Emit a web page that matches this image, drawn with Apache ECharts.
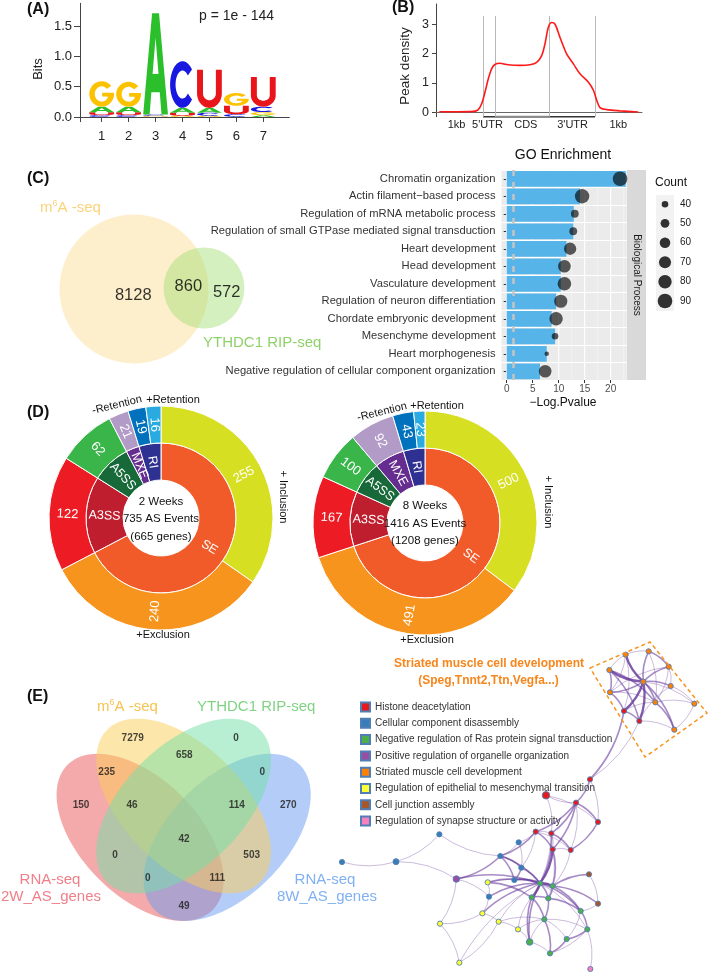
<!DOCTYPE html>
<html><head><meta charset="utf-8">
<script src="https://cdn.jsdelivr.net/npm/echarts@6/dist/echarts.min.js"></script>
<style>html,body{margin:0;padding:0;background:#fff;}#c{width:709px;height:972px;}</style>
</head><body><div id="c"></div>
<script>
// ================= DATA =================
// (A) sequence logo: information (bits) of each base at motif positions 1..7
const logoPositions = [1, 2, 3, 4, 5, 6, 7];
const bitsA = [0.09, 0.09, 1.67, 0.08, 0.08, 0.005, 0.03];
const bitsC = [0.03, 0.03, 0.02, 0.77, 0.05, 0.04, 0.09];
const bitsG = [0.42, 0.41, 0.015, 0.02, 0.02, 0.21, 0.05];
const bitsU = [0.05, 0.05, 0.005, 0.05, 0.63, 0.14, 0.49];
const logoYTicks = [0, 0.5, 1, 1.5];
// (B) metagene peak density
const metaX = [1.6, 10, 18.1, 20.4, 22.2, 23.8, 25.4, 27.0, 28.6, 31.1, 34.3, 40.8, 45.6, 48.9, 51.3, 52.9, 54.5, 56.2, 57.8, 60.2, 63.4, 66.7, 69.9, 73.9, 76.4, 78.0, 79.6, 82.9, 89.3, 98.2];
const metaY = [0.02, 0.02, 0.03, 0.08, 0.30, 0.69, 1.14, 1.48, 1.63, 1.67, 1.63, 1.60, 1.62, 1.70, 1.93, 2.33, 2.89, 3.06, 3.00, 2.55, 1.99, 1.65, 1.31, 1.03, 0.75, 0.41, 0.16, 0.09, 0.05, 0.01];
const regionBounds = [22.8, 28.6, 54.9, 77.2];
const regionLabels = ['1kb', "5'UTR", 'CDS', "3'UTR", '1kb'];
const regionLabelPos = [10, 25, 43.6, 66.3, 88.5];
const densityTicks = [0, 1, 2, 3];
// (C) two-set Venn
const venn2Counts = [8128, 860, 572];
// (C) GO enrichment
const goTerms = ['Chromatin organization', 'Actin filament\u2212based process', 'Regulation of mRNA metabolic process',
  'Regulation of small GTPase mediated signal transduction', 'Heart development', 'Head development',
  'Vasculature development', 'Regulation of neuron differentiation', 'Chordate embryonic development',
  'Mesenchyme development', 'Heart morphogenesis', 'Negative regulation of cellular component organization'];
const goLogP = [22.9, 14.1, 12.9, 12.8, 11.5, 10.4, 10.4, 9.5, 8.65, 9.3, 7.7, 6.4];
const goDotX = [21.8, 14.5, 13.1, 12.8, 12.2, 11.1, 11.1, 10.4, 9.5, 9.3, 7.7, 7.4];
const goCount = [90, 88, 45, 45, 72, 74, 82, 78, 80, 40, 33, 74];
const goTicks = [0, 5, 10, 15, 20];
const countLegend = [40, 50, 60, 70, 80, 90];
const pCutoff = 1.3;
// (D) AS events
const asTypes = ['SE', 'A3SS', 'A5SS', 'MXE', 'RI'];
const outerParent = [0, 0, 1, 2, 3, 4, 4];
const week2Outer = [255, 240, 122, 62, 21, 19, 16];
const week8Outer = [500, 491, 167, 100, 92, 43, 23];
const week2Center = ['2 Weeks', '735 AS Events', '(665 genes)'];
const week8Center = ['8 Weeks', '1416 AS Events', '(1208 genes)'];
// (E) four-set Venn (regions: A, B, AB, AC, BD, C, ABC, ABD, D, ABCD, BC, AD, BCD, ACD, CD)
const venn4Counts = [7279, 0, 658, 235, 0, 150, 46, 114, 270, 42, 0, 503, 0, 111, 49];
// (E) enrichment network
const netCategories = ['Histone deacetylation', 'Cellular component disassembly', 'Negative regulation of Ras protein signal transduction',
  'Positive regulation of organelle organization', 'Striated muscle cell development', 'Regulation of epithelial to mesenchymal transition',
  'Cell junction assembly', 'Regulation of synapse structure or activity'];
const netX = [797, 866, 926, 748, 850, 932, 750, 886, 1003, 792, 838, 943, 690, 558, 648, 714, 527, 574, 578, 632, 476, 421, 484, 463, 289, 238, 108, -54, 383, 387, 367, 240, 416, 298, 474, 509, 540, 578, 515, 565, 553, 687, 714, 662, 682, 620, 570, 691];
const netY = [14, 4, 50, 60, 95, 108, 127, 157, 161, 183, 213, 239, 388, 436, 458, 516, 545, 550, 598, 600, 577, 618, 653, 690, 687, 553, 635, 636, 697, 740, 790, 821, 815, 938, 838, 876, 700, 708, 742, 745, 808, 673, 761, 783, 838, 867, 910, 957];
const netCat = [4, 4, 4, 4, 4, 4, 4, 4, 4, 0, 0, 4, 0, 0, 0, 0, 0, 0, 0, 0, 1, 1, 1, 1, 3, 1, 1, 1, 5, 1, 5, 5, 5, 5, 5, 2, 2, 2, 2, 2, 2, 6, 6, 2, 2, 2, 2, 7];
const netEdges = [[4,0,3],[4,1,2],[4,2,2],[4,3,3],[4,5,2],[4,6,2],[4,7,2],[4,9,3],[4,10,3],[4,11,2],[4,8,1],
  [3,6,2],[3,0,1],[0,1,1],[1,2,2],[2,5,1],[5,8,1],[7,8,1],[7,11,2],[8,11,1],[9,10,2],[6,9,2],[10,11,1],[0,9,1],[3,7,2],[6,2,1],[1,7,1],[9,7,1],[3,10,2],[0,6,1],[2,7,1],[10,5,1],[6,7,1],
  [9,12,2],[10,12,1],[12,14,2],[12,15,1],[14,13,1],[14,15,2],[13,15,1],[14,16,2],[14,17,2],[14,19,1],[15,19,2],[16,17,1],[16,18,2],[17,18,1],[17,19,2],[18,19,1],[16,19,1],[14,18,2],[13,17,1],
  [18,36,3],[17,36,2],[16,21,2],[16,20,1],[18,37,2],[19,37,1],[16,22,1],[17,38,1],[18,39,1],
  [20,21,1],[20,22,1],[21,22,2],[21,23,2],[22,23,2],[21,24,2],[21,25,1],[25,26,1],[26,27,1],[26,24,1],[24,31,1],[24,29,1],[21,36,2],[22,36,2],[23,36,2],[23,37,1],[28,36,2],[28,38,2],[28,37,1],[29,36,2],[29,30,1],[30,31,1],[30,32,1],[31,33,1],[32,33,1],[32,34,1],[30,36,2],[32,36,1],[34,35,1],[34,38,1],[35,38,2],[35,36,2],[35,40,1],[36,37,3],[36,38,3],[36,39,2],[37,39,2],[38,39,2],[37,41,2],[41,42,1],[37,42,2],[39,43,2],[36,43,2],[43,44,2],[43,45,1],[44,45,2],[44,46,1],[45,46,2],[40,46,2],[40,45,1],[39,40,2],[38,40,2],[44,47,1],[42,43,1],[36,44,1],[37,43,2],[24,36,2],[28,29,1],[32,40,1],[33,36,1],[34,40,1],[40,44,1],[35,46,1]];

// ================= LAYOUT / STYLE =================
const FONT = 'Liberation Sans';
const letterColors = ['#2cbf2c', '#1818e0', '#fcc200', '#e8161b'];
const innerColors = ['#f15a29', '#be1e2d', '#17693a', '#662d91', '#2e3192'];
const outerColors = ['#d7df23', '#f7941d', '#ed1c24', '#39b54a', '#b39bc8', '#0071bc', '#29abe2'];
const netColors = ['#e41a1c', '#377eb8', '#4daf4a', '#984ea3', '#ff7f00', '#ffff33', '#a65628', '#f781bf'];
const venn2Circles = [{c: [134, 289], r: 74.5, fill: 'rgba(252,214,128,0.40)'}, {c: [204, 288], r: 40.5, fill: 'rgba(160,222,110,0.45)'}];
const venn2LabelPos = [[133.3, 295], [188.3, 286.7], [226.7, 292.7]];
const venn4Ellipses = [
  {c: [140.1, 837.4], a: 102.6, b: 58.6, dir: 1, fill: '#e95555'},
  {c: [227.2, 837.4], a: 102.6, b: 58.6, dir: -1, fill: '#6a9cf2'},
  {c: [183.6, 806], a: 108, b: 60, dir: 1, fill: '#fbcd55'},
  {c: [183.6, 806], a: 108, b: 60, dir: -1, fill: '#72e0a5'}
];
const venn4LabelPos = [[132.7,738.7],[236,738.7],[184.3,755],[106.7,772],[262.3,772],[81,805.3],[132,805.3],[236.7,805.3],[288.3,805.3],[184,839],[115,855.7],[251.7,855.7],[147.7,878.3],[217.3,878.3],[184,906]];

// ---- glyph outlines (0..100 box, y down) ----
function arc(cx, cy, rx, ry, a0, a1, n) {
  const p = [];
  for (let i = 0; i <= n; i++) { const t = (a0 + (a1 - a0) * i / n) * Math.PI / 180; p.push([cx + rx * Math.cos(t), cy + ry * Math.sin(t)]); }
  return p;
}
const GLYPHS = [
  [[[0,100],[36,0],[64,0],[100,100],[74,100],[67,78],[33,78],[26,100]], [[38,60],[62,60],[50,24]]],
  [arc(50,50,50,50,-40,-320,48).concat(arc(50,50,28,30,-320,-40,48))],
  [arc(50,50,50,50,-40,-355,48).concat([[100,45],[52,45],[52,60],[72,60]], arc(50,50,28,30,25,320,40))],
  [[[0,0],[0,62]].concat(arc(50,62,50,38,180,0,30), [[100,0],[76,0],[76,62]], arc(50,62,26,18,0,180,24), [[24,0]])]
];

// ---- logo stacks ----
const logoData = [];
logoPositions.forEach((p, i) => {
  const arr = [[0, bitsA[i]], [1, bitsC[i]], [2, bitsG[i]], [3, bitsU[i]]].sort((a, b) => a[1] - b[1]);
  let y = 0;
  arr.forEach(([li, h]) => { logoData.push([p, y, y + h, li]); y += h; });
});

function gsize(c) { return 2 * Math.sqrt(Math.max(1.5, 10.9 + 0.848 * (c - 40))); }

function sunData(outer) {
  return asTypes.map((t, i) => {
    const kids = [];
    outer.forEach((v, j) => { if (outerParent[j] === i) kids.push({name: String(v), value: v, itemStyle: {color: outerColors[j]}}); });
    return {name: t, value: kids.reduce((s, k) => s + k.value, 0), itemStyle: {color: innerColors[i]}, children: kids};
  });
}

// ---- graphic texts ----
const G = [];
function T(text, x, y, o) {
  o = o || {};
  G.push({type: 'text', x: x, y: y, rotation: o.rot || 0, z: 100, silent: true,
    style: {text: text, fill: o.color || '#1a1a1a', fontSize: o.size || 12, fontWeight: o.weight || 'normal', fontFamily: FONT,
      align: o.align || 'left', textAlign: o.align || 'left', verticalAlign: 'middle', textVerticalAlign: 'middle'}});
}
function sup(color, size, x, y) {
  G.push({type: 'text', x: x, y: y, z: 100, silent: true, style: {text: '{a|m}{s|6}{a|A -seq}', align: 'left', textAlign: 'left', verticalAlign: 'middle', textVerticalAlign: 'middle',
    rich: {a: {fontSize: size, fill: color, color: color, fontFamily: FONT}, s: {fontSize: 9, fill: color, color: color, fontFamily: FONT, padding: [0, 0, 8, 0]}}}});
}
['(A)', '(B)', '(C)', '(D)', '(E)'].forEach((t, i) => T(t, [27, 392, 27, 27, 27][i], [9.5, 8, 178.5, 412.5, 697][i], {size: 16, weight: 'bold', color: '#111'}));
T('p = 1e - 144', 199, 16, {size: 14, color: '#222'});
T('Bits', 38, 69, {size: 13, rot: Math.PI / 2, align: 'center', color: '#222'});
T('Peak density', 405, 66, {size: 13.5, rot: Math.PI / 2, align: 'center', color: '#222'});
sup('#fbd27a', 15, 40, 208);
T('YTHDC1 RIP-seq', 203, 343, {size: 15, color: '#8fd16a'});
T('GO Enrichment', 563, 155, {size: 14, align: 'center', color: '#111'});
T('\u2212Log.Pvalue', 563, 402.5, {size: 12, align: 'center', color: '#111'});
G.push({type: 'rect', z: 1, silent: true, shape: {x: 627, y: 170, width: 19, height: 210}, style: {fill: '#d9d9d9'}});
T('Biological Process', 636.5, 275, {size: 10, rot: -Math.PI / 2, align: 'center', color: '#1a1a1a'});
T('Count', 655, 183, {size: 12, color: '#111'});
G.push({type: 'rect', z: 1, silent: true, shape: {x: 656, y: 195, width: 18, height: 116}, style: {fill: '#f2f2f2'}});
countLegend.forEach((c, i) => {
  const y = [204.3, 223.3, 242.7, 262.3, 281.7, 301][i];
  G.push({type: 'circle', z: 100, silent: true, shape: {cx: 665, cy: y, r: gsize(c) / 2}, style: {fill: 'rgba(0,0,0,0.8)'}});
  T(String(c), 680, y, {size: 10, color: '#1a1a1a'});
});
week2Center.forEach((t, i) => T(t, 161, 501.5 + 17.5 * i, {size: 11.5, align: 'center', color: '#111'}));
week8Center.forEach((t, i) => T(t, 425, 506 + 17.5 * i, {size: 11.5, align: 'center', color: '#111'}));
[[161, 117, 405], [425, 382, 412]].forEach(([cx, rx, ry], k) => {
  T('-Retention', rx, ry, {size: 11, align: 'center', rot: 0.24, color: '#111'});
  T('+Retention', cx + 12, ry - (k ? 6 : 5), {size: 11, align: 'center', color: '#111'});
  T('+ Inclusion', cx + (k ? 123 : 122), ry + (k ? 90 : 92), {size: 11, align: 'center', rot: -Math.PI / 2, color: '#111'});
  T('+Exclusion', cx + 2, (k ? 640 : 635), {size: 11, align: 'center', color: '#111'});
});
sup('#f5c451', 15, 97, 707);
T('YTHDC1 RIP-seq', 197, 707, {size: 15, color: '#7fd383'});
T('RNA-seq', 50, 880, {size: 15, align: 'center', color: '#f07f8a'});
T('2W_AS_genes', 51, 897, {size: 15, align: 'center', color: '#f07f8a'});
T('RNA-seq', 325, 880, {size: 15, align: 'center', color: '#80b1f2'});
T('8W_AS_genes', 327, 897, {size: 15, align: 'center', color: '#80b1f2'});
T('Striated muscle cell development', 489, 664, {size: 12, weight: 'bold', align: 'center', color: '#f7861d'});
T('(Speg,Tnnt2,Ttn,Vegfa...)', 488.5, 681, {size: 12, weight: 'bold', align: 'center', color: '#f7861d'});
G.push({type: 'polygon', z: 50, silent: true, shape: {points: [[590, 668], [650, 642], [707, 713], [645, 757]]}, style: {fill: 'none', stroke: '#f7931e', lineWidth: 1.5, lineDash: [4, 3]}});

// ================= OPTION =================
const hidden = {show: false};
function hx(gi, min, max, inv) { return {gridIndex: gi, type: 'value', min: min, max: max, inverse: !!inv, show: false, splitLine: hidden}; }
const clearItem = {color: 'rgba(0,0,0,0)'};
const option = {
  animation: false,
  backgroundColor: '#fff',
  textStyle: {fontFamily: FONT},
  graphic: G,
  legend: {data: netCategories, orient: 'vertical', left: 360, top: 701.5, itemWidth: 9, itemHeight: 9, itemGap: 5.3, icon: 'rect',
    selectedMode: false, padding: 0, textStyle: {fontSize: 10, color: '#333', lineHeight: 10, fontFamily: FONT}},
  grid: [
    {left: 80, top: 3.3, width: 209.3, height: 118.4, outerBoundsMode: 'none'},
    {left: 436, top: 4, width: 206, height: 112.7, outerBoundsMode: 'none'},
    {left: 0, top: 190, width: 280, height: 190, outerBoundsMode: 'none'},
    {left: 501.5, top: 170, width: 125.3, height: 210, show: true, backgroundColor: '#ebebeb', borderWidth: 0, outerBoundsMode: 'none'},
    {left: 0, top: 640, width: 360, height: 332, outerBoundsMode: 'none'},
    {left: 341, top: 650, width: 368, height: 322, outerBoundsMode: 'none'}
  ],
  xAxis: [
    {gridIndex: 0, type: 'value', min: 0.195, max: 7.965, splitLine: hidden,
      axisLine: {show: true, lineStyle: {color: '#444'}},
      axisTick: {show: true, customValues: logoPositions, length: 5, lineStyle: {color: '#444'}},
      axisLabel: {customValues: logoPositions, fontSize: 13, color: '#222', margin: 8}},
    {gridIndex: 1, type: 'value', min: 0, max: 100, splitLine: hidden,
      axisLine: {show: true, lineStyle: {color: '#666'}}, axisTick: hidden,
      axisLabel: {customValues: regionLabelPos, formatter: v => regionLabels[regionLabelPos.indexOf(v)], fontSize: 11, color: '#222', margin: 3}},
    hx(2, 0, 280),
    {gridIndex: 3, type: 'value', min: -1, max: 23.1, splitLine: hidden, axisLine: hidden,
      axisTick: {show: true, customValues: goTicks, length: 3, lineStyle: {color: '#333'}},
      axisLabel: {customValues: goTicks, fontSize: 10, color: '#4d4d4d', margin: 4}},
    hx(4, 0, 360),
    hx(5, -57, 1047)
  ],
  yAxis: [
    {gridIndex: 0, type: 'value', min: -0.078, max: 1.876, splitLine: hidden,
      axisLine: {show: true, lineStyle: {color: '#444'}},
      axisTick: {show: true, customValues: logoYTicks, length: 6, lineStyle: {color: '#444'}},
      axisLabel: {customValues: logoYTicks, formatter: v => v.toFixed(1), fontSize: 13, color: '#222', margin: 8}},
    {gridIndex: 1, type: 'value', min: -0.15, max: 3.69, splitLine: hidden,
      axisLine: {show: true, lineStyle: {color: '#444'}},
      axisTick: {show: true, customValues: densityTicks, length: 4, lineStyle: {color: '#444'}},
      axisLabel: {customValues: densityTicks, fontSize: 12.5, color: '#222', margin: 7}},
    hx(2, 190, 380, true),
    {gridIndex: 3, type: 'category', data: goTerms, inverse: true, axisLine: hidden,
      axisTick: {show: true, alignWithLabel: true, length: 3, lineStyle: {color: '#333'}},
      axisLabel: {fontSize: 11.2, color: '#333', margin: 6, interval: 0},
      splitLine: {show: true, interval: 0, lineStyle: {color: '#fff', width: 1.2}}},
    hx(4, 640, 972, true),
    hx(5, 0, 966, true)
  ],
  series: [
    {type: 'custom', xAxisIndex: 0, yAxisIndex: 0, data: logoData, silent: true,
      renderItem: (params, api) => {
        const pos = api.value(0), y0 = api.value(1), y1 = api.value(2), li = api.value(3);
        const pL = api.coord([pos - 0.46, y0]), pR = api.coord([pos + 0.46, y1]);
        const x0 = pL[0], yb = pL[1], W = pR[0] - pL[0], H = pL[1] - pR[1];
        if (H < 0.25) return null;
        const d = GLYPHS[li].map(r => 'M' + r.map(([u, v]) => (x0 + u / 100 * W).toFixed(2) + ' ' + (yb - H + v / 100 * H).toFixed(2)).join('L') + 'Z').join('');
        return {type: 'path', shape: {pathData: d}, style: {fill: letterColors[li]}};
      }},
    {type: 'line', xAxisIndex: 1, yAxisIndex: 1, data: metaX.map((x, i) => [x, metaY[i]]), smooth: 0.3, symbol: 'none', silent: true,
      lineStyle: {color: '#ff1a1a', width: 1.6}, z: 5,
      markLine: {silent: true, symbol: 'none', label: hidden, lineStyle: {color: '#b8b8b8', width: 1, type: 'solid'},
        data: regionBounds.map(b => [{coord: [b, 3.28]}, {coord: [b, -0.15]}])}},
    {type: 'line', xAxisIndex: 1, yAxisIndex: 1, data: [[regionBounds[0], -0.15], [regionBounds[3], -0.15]], symbol: 'none', silent: true, clip: false,
      lineStyle: {color: '#333', width: 1.6}, z: 4},
    {type: 'line', xAxisIndex: 1, yAxisIndex: 1, data: [[regionBounds[1], -0.15], [regionBounds[2], -0.15]], symbol: 'none', silent: true, clip: false,
      lineStyle: {color: '#8a8a8a', width: 2}, z: 4},
    {type: 'custom', xAxisIndex: 2, yAxisIndex: 2, data: [0, 1], silent: true,
      renderItem: (params, api) => {
        const c = venn2Circles[params.dataIndex];
        const p = api.coord(c.c);
        return {type: 'circle', shape: {cx: p[0], cy: p[1], r: api.size([c.r, 0])[0]}, style: {fill: c.fill}};
      }},
    {type: 'scatter', xAxisIndex: 2, yAxisIndex: 2, symbolSize: 2, itemStyle: clearItem, silent: true, z: 6,
      data: venn2Counts.map((v, i) => [venn2LabelPos[i][0], venn2LabelPos[i][1], v]),
      label: {show: true, position: 'inside', formatter: p => String(p.value[2]), fontSize: 16.5, color: '#000', fontFamily: FONT}},
    {type: 'custom', xAxisIndex: 3, yAxisIndex: 3, data: [0, 2.5, 5, 7.5, 10, 12.5, 15, 17.5, 20, 22.5], silent: true, z: 1,
      renderItem: (params, api) => {
        const v = api.value(0), p = api.coord([v, 0]), cs = params.coordSys;
        const major = v % 5 === 0;
        return {type: 'line', shape: {x1: p[0], y1: cs.y, x2: p[0], y2: cs.y + cs.height}, style: {stroke: major ? '#ffffff' : '#f6f6f6', lineWidth: major ? 1.1 : 0.6}};
      }},
    {type: 'bar', xAxisIndex: 3, yAxisIndex: 3, data: goLogP, barCategoryGap: '10%', silent: true, z: 2,
      itemStyle: {color: '#56b4e9'},
      markLine: {silent: true, symbol: 'none', label: hidden, lineStyle: {color: '#c4c4c4', width: 2.5, type: [6, 6]}, data: [{xAxis: pCutoff}]}},
    {type: 'scatter', xAxisIndex: 3, yAxisIndex: 3, silent: true, z: 3,
      data: goDotX.map((x, i) => [x, i, goCount[i]]), symbolSize: v => gsize(v[2]), itemStyle: {color: 'rgba(0,0,0,0.8)'}},
    ...[[week2Outer, [161, 518]], [week8Outer, [425, 523]]].map(([d, c]) => ({
      type: 'sunburst', center: c, radius: [38, 112], sort: null, nodeClick: false, silent: true,
      emphasis: {disabled: true}, data: sunData(d),
      itemStyle: {borderColor: '#fff', borderWidth: 1},
      label: {rotate: 'radial', color: '#fff', fontSize: 13, fontFamily: FONT},
      levels: [{}, {r0: 38, r: 75, label: {fontSize: 12.5}}, {r0: 75, r: 112, label: {fontSize: 13}}]
    })),
    {type: 'custom', xAxisIndex: 4, yAxisIndex: 4, data: [0, 1, 2, 3], silent: true,
      renderItem: (params, api) => {
        const e = venn4Ellipses[params.dataIndex];
        const s = Math.SQRT1_2, u = [s, e.dir * s], v = [-e.dir * s, s];
        const pts = [];
        for (let i = 0; i < 120; i++) {
          const t = i / 120 * 2 * Math.PI;
          pts.push(api.coord([e.c[0] + e.a * Math.cos(t) * u[0] + e.b * Math.sin(t) * v[0], e.c[1] + e.a * Math.cos(t) * u[1] + e.b * Math.sin(t) * v[1]]));
        }
        return {type: 'polygon', shape: {points: pts}, style: {fill: e.fill, opacity: 0.5}};
      }},
    {type: 'scatter', xAxisIndex: 4, yAxisIndex: 4, symbolSize: 2, itemStyle: clearItem, silent: true, z: 6,
      data: venn4Counts.map((v, i) => [venn4LabelPos[i][0], venn4LabelPos[i][1], v]),
      label: {show: true, position: 'inside', formatter: p => String(p.value[2]), fontSize: 10, fontWeight: 'bold', color: '#1a1a1a', fontFamily: FONT}},
    {type: 'graph', coordinateSystem: 'cartesian2d', xAxisIndex: 5, yAxisIndex: 5, silent: true, z: 5,
      categories: netCategories.map((n, i) => ({name: n, itemStyle: {color: netColors[i]}})),
      data: netX.map((x, i) => ({name: 'n' + i, value: [x, netY[i]], category: netCat[i],
        symbolSize: i === 13 ? 7.5 : (i === 35 || i === 24 ? 6.5 : (i === 26 ? 6 : 5.2))})),
      links: netEdges.map(([s, t, w]) => ({source: s, target: t,
        lineStyle: {width: [0, 1, 1.6, 2.3][w], opacity: [0, 0.35, 0.6, 0.85][w]}})),
      lineStyle: {color: '#6a3d9e', curveness: 0.15},
      itemStyle: {borderColor: '#4f7fb5', borderWidth: 0.9},
      label: hidden, emphasis: {disabled: true}}
  ]
};
const chart = echarts.init(document.getElementById('c'), null, {renderer: 'canvas', width: 709, height: 972});
chart.setOption(option);
</script>
</body></html>
